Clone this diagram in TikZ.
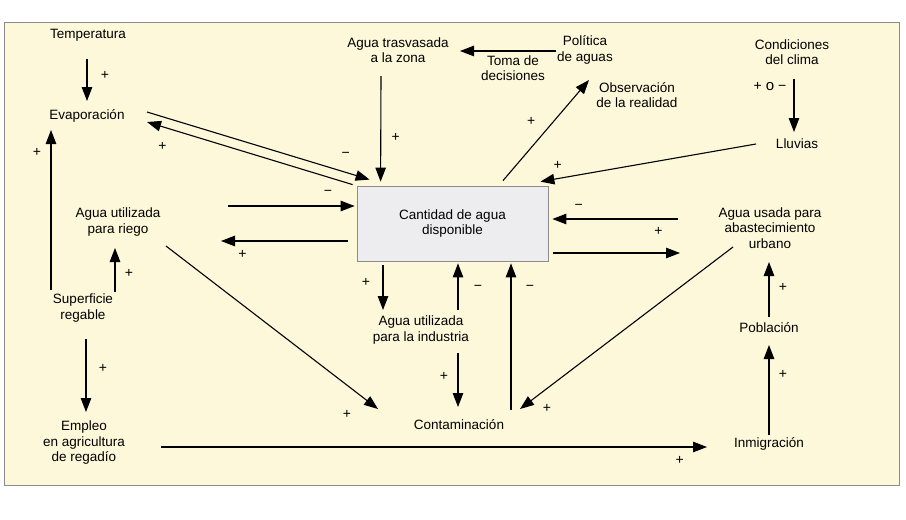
\documentclass[tikz,border=0pt]{standalone}
\usepackage{fontspec}
\setmainfont{Liberation Sans}
\usetikzlibrary{positioning, calc, arrows.meta}
\definecolor{paper}{HTML}{FDF8DA}
\definecolor{boxgray}{HTML}{EDEDEF}
\newcommand\lblfont{\fontsize{13.5}{15.5}\selectfont}
\newcommand\sgnfont{\fontsize{14}{16}\selectfont}
\tikzset{
  lbl/.style={align=center, font=\lblfont, inner sep=0pt},
  flow/.style={-{Triangle[length=14pt,width=10.5pt]}, line width=1.1pt},
  sgn/.style={font=\sgnfont, inner sep=0pt},
}

\begin{document}
\begin{tikzpicture}[x=1pt, y=-1pt]
  \useasboundingbox (0,0) rectangle (906,520);
  % Page
  \fill[paper] (4,22) rectangle (899,485);
  \draw[black!45, line width=0.8pt] (4,22) rectangle (899,485);

  % Left column
  \node[lbl] (temp) at (88,35) {Temperatura};
  \node[lbl] (evap) at (87,116) {Evaporación};
  \node[lbl] (riego) at (118,222) {Agua utilizada\\para riego};
  \node[lbl] (sup) at (83,308) {Superficie\\regable};
  \node[lbl] (empleo) at (84,443) {Empleo\\en agricultura\\de regadío};

  % Top row
  \node[lbl] (trasv) at (398,50) {Agua trasvasada\\a la zona};
  \node[lbl] (toma) at (513,68) {Toma de\\decisiones};
  \node[lbl] (pol) at (585,50) {Política\\de aguas};
  \node[lbl] (obs) at (637,95) {Observación\\de la realidad};
  \node[lbl] (clima) at (792,52) {Condiciones\\del clima};
  \node[lbl] (lluv) at (797,144) {Lluvias};

  % Centre
  \node[lbl, draw=black!45, fill=boxgray, line width=0.8pt,
        minimum width=191pt, minimum height=75pt] (cant) at (452.5,223.5)
        {Cantidad de agua\\disponible};
  \node[lbl] (ind) at (421,330) {Agua utilizada\\para la industria};
  \node[lbl] (cont) at (459,425) {Contaminación};

  % Right column
  \node[lbl] (urb) at (770,228) {Agua usada para\\abastecimiento\\urbano};
  \node[lbl] (pob) at (769,328) {Población};
  \node[lbl] (inm) at (769,444) {Inmigración};

  % Left loops
  \draw[flow] ($(temp)+(-1,24)$) -- node[sgn, pos=.38, xshift=18pt] {+} ($(evap)+(0,-15)$);
  \draw[flow] ($(evap)+(60,-4)$) -- node[sgn, pos=.87, xshift=5pt, yshift=16pt] {−} ($(cant.north west)+(13,-6)$);
  \draw[flow] ($(cant.north west)+(-4,-1)$) -- node[sgn, pos=.9, xshift=-5pt, yshift=-18pt] {+} ($(evap)+(60,6)$);
  \draw[flow] ($(sup)+(-32,-18)$) -- node[sgn, pos=.86, xshift=-14pt] {+} ($(evap)+(-36,14)$);
  \draw[flow] ($(sup)+(32,-16)$) -- node[sgn, pos=.43, xshift=14pt] {+} ($(riego)+(-3,26)$);
  \draw[flow] ($(sup)+(3,31)$) -- node[sgn, pos=.41, xshift=17pt] {+} ($(empleo)+(2,-31)$);
  \draw[flow] ($(riego)+(110,-16)$) -- node[sgn, pos=.79, yshift=13pt] {−} ($(cant.west)+(-2,-17.5)$);
  \draw[flow] ($(cant.west)+(-9,17.5)$) -- node[sgn, pos=.83, yshift=-13pt] {+} ($(riego)+(103,19)$);
  \draw[flow] ($(riego)+(48,24)$) -- node[sgn, pos=.92, xshift=-14pt, yshift=-18pt] {+} ($(cont)+(-81,-16)$);

  % Top
  \draw[flow] ($(trasv)+(-17,26)$) -- node[sgn, pos=.58, xshift=15pt] {+} ($(cant.north west)+(24,-4)$);
  \draw[flow] ($(pol)+(-29,1)$) -- ($(trasv)+(62,1)$);
  \draw[flow] ($(cant.north)+(50.5,-5)$) -- node[sgn, pos=.48, xshift=-13pt, yshift=11pt] {+} ($(obs)+(-48,-15)$);
  \draw[flow] ($(clima)+(2,27)$) -- node[pos=.15, xshift=-24pt, font=\fontsize{15}{17}\selectfont, inner sep=0pt]
        {{\sgnfont+}\hspace{4pt}o\hspace{4pt}{\sgnfont−}} ($(lluv)+(-3,-12)$);
  \draw[flow] ($(lluv)+(-41,0)$) -- node[sgn, pos=.91, xshift=-2pt, yshift=13pt] {+} ($(cant.north east)+(-8,-4)$);

  % Right
  \draw[flow] ($(urb)+(-92,-9)$) -- node[sgn, pos=.79, yshift=12pt] {−} ($(cant.east)+(4,-4.5)$);
  \draw[flow] ($(cant.east)+(5,29.5)$) -- node[sgn, pos=.83, yshift=22pt] {+} ($(urb)+(-90,25)$);
  \draw[flow] ($(urb)+(-37,19)$) -- node[sgn, pos=.92, xshift=10pt, yshift=-12pt] {+} ($(cont)+(61,-16)$);
  \draw[flow] ($(inm)+(0,-9)$) -- node[sgn, pos=.67, xshift=14pt] {+} ($(pob)+(0,17)$);
  \draw[flow] ($(pob)+(0,-11)$) -- node[sgn, pos=.53, xshift=14pt] {+} ($(urb)+(-1,34)$);

  % Bottom
  \draw[flow] ($(cant.south)+(-69.5,4)$) -- node[sgn, pos=.38, xshift=-17pt] {+} ($(ind)+(-38,-20)$);
  \draw[flow] ($(ind)+(37,-20)$) -- node[sgn, pos=.47, xshift=20pt] {−} ($(cant.south)+(5.5,2)$);
  \draw[flow] ($(ind)+(37,23)$) -- node[sgn, pos=.43, xshift=-14pt] {+} ($(cont)+(-1,-18)$);
  \draw[flow] ($(cont)+(52,-15)$) -- node[sgn, pos=.83, xshift=19pt] {−} ($(cant.south)+(58.5,2)$);
  \draw[flow] ($(empleo)+(77,4)$) -- node[sgn, pos=.95, yshift=-13pt] {+} ($(inm)+(-62,3)$);
\end{tikzpicture}
\end{document}
